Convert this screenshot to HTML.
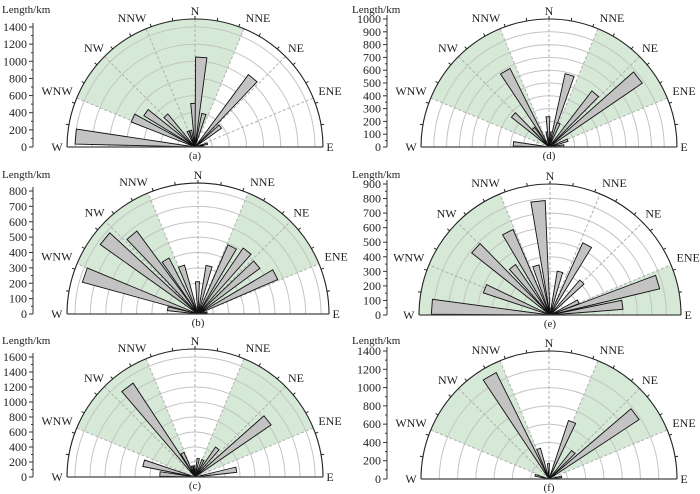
<!DOCTYPE html>
<html><head><meta charset="utf-8">
<style>
html,body{margin:0;padding:0;background:#fff;}
svg{display:block;font-family:"Liberation Serif",serif;}
</style></head>
<body>
<svg id="chart" width="700" height="494" viewBox="0 0 700 494" xmlns="http://www.w3.org/2000/svg"></svg>
<script>
// ---- data (angle from North in degrees, negative = west; values in km) ----
const panelLabels = ["(a)","(b)","(c)","(d)","(e)","(f)"];
const anglesA = [-85,-65,-55,-43,-24,-15,-2,4,15,40,51,75,85];
const valuesA = [1400,800,700,500,200,200,510,1050,400,1050,380,150,100];
const anglesB = [-80,-71,-51,-40,-31,-19,-1,13,27,38,50,63,80];
const valuesB = [200,780,780,670,410,330,210,320,490,520,500,565,60];
const anglesC = [-85,-75,-37,-28,-15,-5,10,25,38,52,80];
const valuesC = [470,710,1500,360,150,150,250,250,485,1230,560];
const anglesD = [-85,-48,-40,-30,-8,-2,10,16,22,41,52,70,85];
const valuesD = [280,375,190,685,120,237,120,586,200,552,883,155,117];
const anglesE = [-86,-68,-48,-38,-27,-16,-6,13,28,44,65,73,82];
const valuesE = [815,483,687,420,640,352,787,305,545,316,215,775,503];
const anglesF = [-75,-30,-19,-2,22,42,53,80];
const valuesF = [157,1300,350,168,675,398,1181,140];
const ticksA = [0,200,400,600,800,1000,1200,1400];
const ticksB = [0,100,200,300,400,500,600,700,800];
const ticksC = [0,200,400,600,800,1000,1200,1400,1600];
const ticksD = [0,100,200,300,400,500,600,700,800,900,1000];
const ticksE = [0,100,200,300,400,500,600,700,800,900];
const ticksF = [0,200,400,600,800,1000,1200,1400];
const greensA = [[-67.5,22.5]];
const greensB = [[-67.5,-22.5],[22.5,67.5]];
const greensC = [[-67.5,-22.5],[22.5,67.5]];
const greensD = [[-67.5,-22.5],[22.5,67.5]];
const greensE = [[-90,-22.5],[67.5,90]];
const greensF = [[-67.5,-22.5],[22.5,67.5]];

// ---- layout ----
const panels = [
 {key:"a",cx:195,cy:147,R:128,ax:33,top:1400,topPx:120,ang:anglesA,val:valuesA,ticks:ticksA,green:greensA,lx:2,ly:13},
 {key:"b",cx:198,cy:314,R:131,ax:33,top:800,topPx:123,ang:anglesB,val:valuesB,ticks:ticksB,green:greensB,lx:2,ly:178},
 {key:"c",cx:195,cy:477,R:128,ax:33,top:1600,topPx:120,ang:anglesC,val:valuesC,ticks:ticksC,green:greensC,lx:2,ly:344},
 {key:"d",cx:549,cy:147,R:128,ax:387,top:1000,topPx:128,ang:anglesD,val:valuesD,ticks:ticksD,green:greensD,lx:352,ly:13},
 {key:"e",cx:550,cy:315,R:131,ax:387,top:900,topPx:131,ang:anglesE,val:valuesE,ticks:ticksE,green:greensE,lx:352,ly:178},
 {key:"f",cx:549,cy:479,R:128,ax:387,top:1400,topPx:128,ang:anglesF,val:valuesF,ticks:ticksF,green:greensF,lx:352,ly:344}
];
const NS="http://www.w3.org/2000/svg";
const svg=document.getElementById("chart");
function mk(tag,attrs,parent){const e=document.createElementNS(NS,tag);for(const k in attrs)e.setAttribute(k,attrs[k]);(parent||svg).appendChild(e);return e;}
function pt(p,deg,r){const t=deg*Math.PI/180;return [p.cx+r*Math.sin(t),p.cy-r*Math.cos(t)];}
const dirs=[["N",0,-136],["NNE",63,-129],["NE",101,-99],["ENE",135,-56],["WNW",-138,-56],["NW",-101,-99],["NNW",-63,-129],["W",-138,0],["E",135,0]];

panels.forEach((p,pi)=>{
  const g=mk("g",{});
  
  
  const k=p.topPx/p.top; // px per km
  const rOf=v=>v*k;
  // green sectors
  p.green.forEach(([a0,a1],gi)=>{
    const s=pt(p,a0,p.R),e=pt(p,a1,p.R);
    const path=mk("path",{d:`M${p.cx},${p.cy}L${s[0]},${s[1]}A${p.R},${p.R} 0 0 1 ${e[0]},${e[1]}Z`,fill:"#d5e9d6",stroke:"none"},g);
    
    
  });
  // rings
  p.ticks.forEach(v=>{
    const r=rOf(v); if(v===0||r>=p.R-1)return;
    const ring=mk("path",{d:`M${p.cx-r},${p.cy}A${r},${r} 0 0 1 ${p.cx+r},${p.cy}`,fill:"none",stroke:"#c4c4c4","stroke-width":1},g);
    
    
  });
  // dashed direction lines
  [-67.5,-45,-22.5,0,22.5,45,67.5].forEach(a=>{
    const e=pt(p,a,p.R);
    const l=mk("line",{x1:p.cx,y1:p.cy,x2:e[0],y2:e[1],stroke:"#b0b0b0","stroke-width":1,"stroke-dasharray":"3,2"},g);
    
    
  });
  // bars
  p.ang.forEach((a,i)=>{
    const r=rOf(p.val[i]);
    const s=pt(p,a-3.6,r),e=pt(p,a+3.6,r);
    const b=mk("polygon",{points:`${p.cx},${p.cy} ${s[0]},${s[1]} ${e[0]},${e[1]}`,fill:"#c3c3c3",stroke:"#111","stroke-width":0.9},g);
    
    
  });
  // outer arc & baseline
  const arc=mk("path",{d:`M${p.cx-p.R},${p.cy}A${p.R},${p.R} 0 0 1 ${p.cx+p.R},${p.cy}`,fill:"none",stroke:"#222","stroke-width":1.1},g);
  
  
  const base=mk("line",{x1:p.cx-p.R,y1:p.cy,x2:p.cx+p.R,y2:p.cy,stroke:"#444","stroke-width":1.2},g);
  
  
  for(let a=-80;a<=80;a+=10){
    const s=pt(p,a,p.R),e=pt(p,a,p.R+3);
    const t=mk("line",{x1:s[0],y1:s[1],x2:e[0],y2:e[1],stroke:"#222","stroke-width":1},g);
    
    
  }
  // direction labels
  const sc=p.R/128;
  dirs.forEach(([txt,dx,dy])=>{
    const t=mk("text",{x:p.cx+dx*sc,y:p.cy+dy*sc+4,"text-anchor":"middle","font-size":12,fill:"#222"},g);
    t.textContent=txt;
    
    
  });
  const pl=mk("text",{x:p.cx,y:p.cy+12,"text-anchor":"middle","font-size":11,fill:"#222"},g);
  pl.textContent=panelLabels[pi];
  
  
  // y axis
  const topY=p.cy-p.topPx;
  const ax=mk("line",{x1:p.ax,y1:p.cy,x2:p.ax,y2:topY-4,stroke:"#333","stroke-width":1},g);
  
  
  const step=p.ticks[1]-p.ticks[0];
  p.ticks.forEach(v=>{
    const y=p.cy-rOf(v);
    const tk=mk("line",{x1:p.ax-4,y1:y,x2:p.ax,y2:y,stroke:"#333","stroke-width":1},g);
    
    
    if(v<p.top){
      const ym=p.cy-rOf(v+step/2);
      const mt=mk("line",{x1:p.ax-2,y1:ym,x2:p.ax,y2:ym,stroke:"#333","stroke-width":1},g);
      
      
    }
    const lb=mk("text",{x:p.ax-6,y:y+4,"text-anchor":"end","font-size":12,fill:"#222"},g);
    lb.textContent=v;
    
    
  });
  const yt=mk("text",{x:p.lx,y:p.ly,"font-size":11,fill:"#222"},g);
  yt.textContent="Length/km";
  
  
});
</script>
</body></html>
